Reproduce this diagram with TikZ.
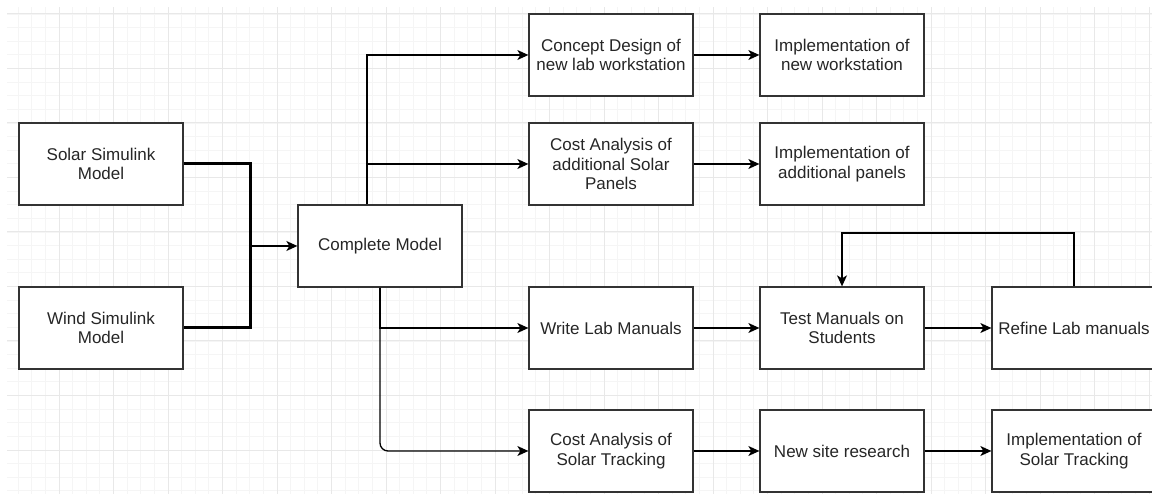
\documentclass[tikz,border=0pt]{standalone}
\usepackage{fontspec}
\setmainfont{Liberation Sans}
\usetikzlibrary{positioning,arrows.meta}

\tikzset{
  box/.style={draw=black!80, line width=1.3pt, fill=white, text=black!85,
    minimum width=164pt, minimum height=82pt, inner sep=2pt, align=center,
    font=\fontsize{17}{19.5}\selectfont},
  flow/.style={line width=1.3pt, -{Stealth[length=11pt,width=10pt,inset=3pt]}},
  bus/.style={line width=3pt},
  gridfine/.style={draw=black!4, line width=0.8pt},
  gridbold/.style={draw=black!9, line width=1pt}
}

\begin{document}
\begin{tikzpicture}[x=1pt,y=-1pt,node distance=231pt,on grid]
\useasboundingbox (0,0) rectangle (1152,494);
\clip (0,0) rectangle (1152,494);

% background grid
\begin{scope}
  \clip (7,8) rectangle (1152,494);
  \foreach \k in {0,...,84}
    \draw[gridfine] ({4.5+13.625*\k},0) -- ++(0,494);
  \foreach \k in {-1,...,36}
    \draw[gridfine] (0,{14+13.625*\k}) -- ++(1152,0);
  \foreach \k in {0,...,21}
    \draw[gridbold] ({4.5+54.5*\k},0) -- ++(0,494);
  \foreach \k in {0,...,9}
    \draw[gridbold] (0,{14+54.5*\k}) -- ++(1152,0);
\end{scope}

\node[box] (complete) at (380,246) {Complete Model};
\node[box] (solar) at (101,164) {Solar Simulink\\Model};
\node[box] (wind) [below=164pt of solar] {Wind Simulink\\Model};

\node[box] (concept) at (611,55) {Concept Design of\\new lab workstation};
\node[box] (panels) [below=109pt of concept] {Cost Analysis of\\additional Solar\\Panels};
\node[box] (manuals) [below=164pt of panels] {Write Lab Manuals};
\node[box] (tracking) [below=123pt of manuals] {Cost Analysis of\\Solar Tracking};

\node[box] (workstation) [right=of concept] {Implementation of\\new workstation};
\node[box] (addpanels) [right=of panels] {Implementation of\\additional panels};
\node[box] (test) [right=of manuals] {Test Manuals on\\Students};
\node[box] (site) [right=of tracking] {New site research};

\node[box] (refine) [right=232pt of test] {Refine Lab manuals};
\node[box] (imptracking) [right=232pt of site] {Implementation of\\Solar Tracking};

% models into the complete model
\coordinate (merge) at (250,246);
\draw[bus] (solar.east) -| (merge) |- (wind.east);
\draw[flow] (merge) -- (complete.west);

% branches
\coordinate (up) at ([xshift=-13pt]complete.north);
\draw[flow] (up) |- (concept.west);
\draw[flow] (up) |- (panels.west);
\draw[flow] (complete.south) |- (manuals.west);
\draw[flow,rounded corners=8pt] (complete.south) |- (tracking.west);

\path[flow]
  (concept) edge (workstation)
  (panels) edge (addpanels)
  (manuals) edge (test)
  (test) edge (refine)
  (tracking) edge (site)
  (site) edge (imptracking);

% feedback loop
\coordinate (back) at (1074,233);
\draw[flow] (refine.north) -- (back) -| (test.north);
\end{tikzpicture}
\end{document}
